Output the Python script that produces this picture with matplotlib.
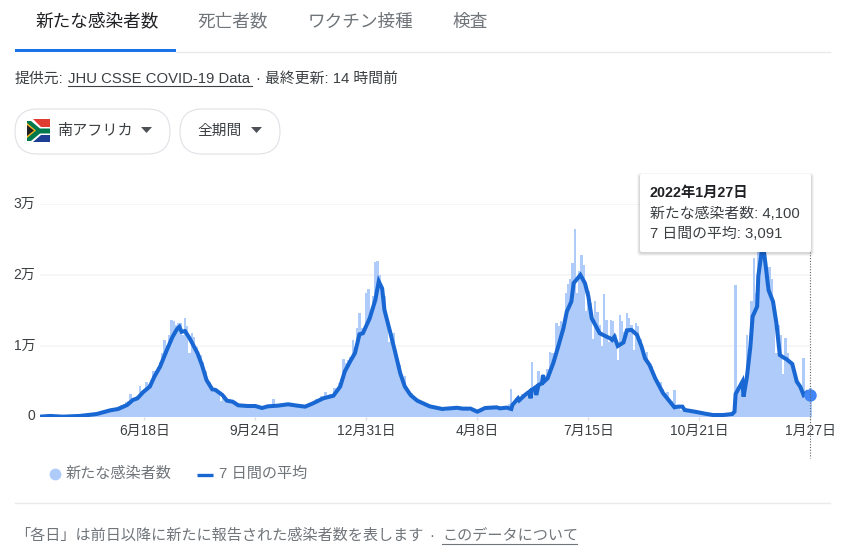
import numpy as np
import matplotlib
matplotlib.use("Agg")
import matplotlib.pyplot as plt
from matplotlib.patches import FancyBboxPatch, Polygon, Rectangle
from matplotlib.transforms import ScaledTranslation

FONT = ["Liberation Sans", "Noto Sans CJK JP"]
plt.rcParams["font.family"] = FONT

# 新たな感染者数 (read every 2 days)
daily_cases = [
    20, 60, 100, 150, 120, 100, 80, 60, 50, 40, 40, 50, 60, 70, 80, 100, 120, 150, 150, 170,
    200, 230, 260, 300, 350, 400, 500, 600, 800, 950, 1000, 1050, 1100, 1200, 1300, 1500, 1700, 1900, 2100, 2200,
    3200, 2700, 2700, 2900, 4300, 3600, 3800, 5000, 4600, 5200, 6500, 6500, 7000, 7800, 9000, 10800, 10200, 11500, 13700, 13500,
    13000, 13300, 13300, 11500, 13900, 12800, 9000, 11800, 11200, 9800, 8000, 8800, 7800, 6500, 4500, 5000, 4300, 3500, 3900, 3600,
    2300, 3000, 2700, 2000, 2300, 2400, 2200, 1900, 1500, 1600, 1700, 1400, 1800, 1700, 1500, 1500, 1600, 1400, 1200, 1400,
    1500, 1700, 1500, 2500, 1500, 1600, 1700, 1900, 1800, 2000, 1600, 1800, 1500, 1700, 1600, 1400, 1500, 1300, 1700, 2000,
    2100, 1900, 2500, 2400, 3000, 2800, 3500, 3100, 3300, 3000, 4100, 3600, 4800, 5300, 8200, 7600, 8000, 8500, 10900, 9800,
    12500, 14700, 12500, 12000, 17500, 18000, 15000, 17000, 21900, 22000, 20000, 18000, 17000, 14000, 10500, 12200, 11900, 9500, 8000, 7300,
    5500, 5800, 4200, 3000, 3400, 3000, 2600, 2400, 2000, 1800, 1700, 1500, 1400, 1600, 1200, 1300, 1100, 1000, 1200, 900,
    1100, 1300, 1000, 1200, 1400, 1000, 1300, 1100, 1000, 1200, 800, 1000, 700, 500, 700, 1100, 900, 1300, 1500, 1200,
    1400, 1300, 1300, 1300, 1300, 1500, 1600, 1800, 3900, 1800, 2700, 2900, 2800, 3300, 3200, 3600, 3800, 7700, 3800, 4400,
    6500, 5000, 6100, 5800, 6800, 9200, 9000, 9000, 13200, 12800, 13500, 12500, 17400, 18700, 19500, 21700, 26500, 17500, 20500, 22800,
    21400, 15000, 17800, 16000, 11000, 16300, 14800, 13000, 10000, 17300, 13700, 10500, 13700, 13500, 11500, 8000, 14400, 13500, 12000, 14700,
    14000, 13000, 9500, 13200, 12800, 11000, 9000, 8900, 9200, 7500, 7200, 6200, 5700, 5000, 5000, 3900, 3300, 3500, 2600, 2300,
    3800, 1500, 1300, 1000, 800, 900, 700, 600, 600, 700, 500, 600, 500, 400, 400, 300, 300, 300, 280, 250,
    250, 230, 220, 250, 300, 300, 450, 18600, 4000, 4500, 5000, 4500, 11500, 9000, 16300, 22400, 17500, 23500, 25000, 24000,
    23000, 18000, 21100, 19500, 16000, 9000, 13000, 11500, 6000, 11100, 9000, 8000, 7500, 6500, 5500, 4500, 4000, 8300, 3000, 3000, 4100,
]

# 7 日間の平均
avg_days = [
    0, 9, 20, 35, 50, 62, 69, 77, 82, 86, 91, 97, 101, 106, 112, 117, 121, 123, 125, 128,
    132, 139, 143, 147, 152, 155, 161, 165, 170, 175, 183, 190, 196, 201, 210, 219, 227, 234, 241, 250,
    259, 265, 269, 274, 278, 282, 285, 291, 296, 299, 302, 304, 309, 313, 318, 322, 327, 333, 344, 355,
    368, 373, 380, 386, 393, 403, 406, 412, 416, 417, 422, 423, 428, 432, 433, 434, 437, 438, 440, 443,
    444, 445, 448, 453, 457, 462, 465, 469, 471, 477, 481, 484, 487, 490, 494, 499, 503, 505, 507, 510,
    515, 518, 522, 527, 531, 534, 538, 543, 550, 556, 560, 563, 567, 569, 578, 587, 594, 603, 611, 613,
    614, 620, 621, 624, 627, 629, 633, 634, 637, 639, 641, 643, 647, 650, 653, 656, 659, 664, 668, 671,
    674, 677, 680,
]
avg_cases = [
    50, 150, 50, 150, 420, 940, 1130, 1700, 2400, 2630, 3500, 4300, 5700, 7100, 9450, 11300, 12400, 12700, 12000, 12100,
    11100, 9000, 7300, 5200, 3900, 3800, 3100, 2300, 2160, 1650, 1550, 1550, 1270, 1500, 1600, 1790, 1600, 1460, 1930, 2630,
    3000, 4300, 6400, 7900, 9000, 11650, 11800, 13900, 16500, 19100, 18100, 15100, 12000, 9450, 6150, 4300, 3100, 2300, 1500, 1130,
    1300, 1180, 1180, 750, 1270, 1360, 1220, 1320, 1130, 1700, 2630, 2350, 3100, 3570, 2630, 3800, 4140, 3100, 4500, 4750,
    5900, 5000, 5450, 7570, 9700, 12500, 14850, 16260, 18850, 20000, 18850, 17000, 13900, 13000, 11800, 11400, 11100, 10850, 11300, 10000,
    10500, 12200, 12270, 11560, 9900, 8270, 7330, 5450, 3340, 2160, 1360, 1460, 1460, 990, 750, 470, 280, 280, 420, 750,
    3240, 4980, 2870, 5690, 9900, 14150, 15560, 19800, 23300, 23300, 20700, 17900, 16260, 13200, 8740, 8400, 8130, 7470, 4980, 4280,
    3100, 3500, 3091,
]

tick_days = [92, 190, 288, 386, 484, 582, 680]
tick_labels = ["6月18日", "9月24日", "12月31日", "4月8日", "7月15日", "10月21日", "1月27日"]
y_ticks = [0, 10000, 20000, 30000]
y_labels = ["0", "1万", "2万", "3万"]
tabs = ["新たな感染者数", "死亡者数", "ワクチン接種", "検査"]

BAR = "#aecbfa"
LINE = "#1967d2"
GRAY = "#70757a"
DARK = "#3c4043"

W, H = 849, 554
fig = plt.figure(figsize=(W / 100, H / 100), dpi=100, facecolor="white")

# main chart, 0 is at y=417px and 3万 at y=204px
ax = fig.add_axes([40 / W, (H - 417) / H, 790 / W, 213 / H], zorder=1)
ax.set_xlim(0, 697.3)
ax.set_ylim(0, 30000)
ax.patch.set_visible(False)
for s in ax.spines.values():
    s.set_visible(False)
ax.hlines(y_ticks[1:], 0, 680, color="#f3f4f5", lw=1.1, zorder=1)
ax.hlines(0, 0, 680, color="#e8eaed", lw=1, zorder=1)
bar_days = np.arange(len(daily_cases)) * 2
ax.bar(bar_days, daily_cases, width=2.05, color=BAR, linewidth=0, zorder=2)
ax.plot(avg_days, avg_cases, color=LINE, lw=2.9, solid_joinstyle="miter", zorder=3)
ax.plot(avg_days[-1], avg_cases[-1], "o", ms=9, color="#4285f4", mew=0, zorder=4, clip_on=False)
ax.set_xticks(tick_days)
ax.set_xticklabels(tick_labels, fontsize=10, color=DARK)
ax.set_yticks(y_ticks)
ax.set_yticklabels(y_labels, fontsize=10, color=DARK)
ax.tick_params(axis="x", length=2, width=1, color="#dadce0", pad=3.3)
ax.tick_params(axis="y", length=0, pad=3.5)
# labels sit 2px above their grid line
for lab in ax.get_yticklabels():
    lab.set_transform(lab.get_transform() + ScaledTranslation(0, 0.02, fig.dpi_scale_trans))

# page parts around the chart, in pixel coordinates
ov = fig.add_axes([0, 0, 1, 1], zorder=2)
ov.set_xlim(0, W)
ov.set_ylim(H, 0)
ov.axis("off")


def txt(x, y, s, size=10.7, color=DARK, **kw):
    return ov.text(x, y + 1, s, fontsize=size, color=color, va="center", family=FONT, **kw)


def pill(x0, x1, y0, y1):
    r = (y1 - y0) / 2
    ov.add_patch(FancyBboxPatch((x0 + r, y0 + r), x1 - x0 - 2 * r, 0,
                                boxstyle="round,pad=%f,rounding_size=%f" % (r, r),
                                fc="white", ec="#dfe1e5", lw=0.8))


# tabs
tab_x = [35, 197, 308, 453]
tab_colors = ["#202124", GRAY, GRAY, GRAY]
for x, s, c in zip(tab_x, tabs, tab_colors):
    txt(x, 21, s, size=12.7, color=c)
ov.plot([176, 830], [51.5, 51.5], color="#e8eaed", lw=1)
ov.add_patch(Rectangle((15, 48.5), 161, 3, fc="#1a73e8", ec="none"))

# source line
txt(15, 78, "提供元:")
txt(68, 78, "JHU CSSE COVID-19 Data")
ov.plot([68, 252], [85.5, 85.5], color=DARK, lw=0.8)
txt(256, 78, "· 最終更新: 14 時間前")

# selectors
pill(15, 170, 109, 154)
pill(180, 280, 109, 154)
txt(57, 130, "南アフリカ", size=10.9)
txt(197, 130, "全期間", size=10.6)
for x in [141, 251]:
    ov.add_patch(Polygon([(x, 127), (x + 11, 127), (x + 5.5, 133)], fc="#4d5156", ec="none"))

# flag
ov.add_patch(Rectangle((27, 119), 23, 11.5, fc="#e03c31", ec="none"))
ov.add_patch(Rectangle((27, 130.5), 23, 11.5, fc="#1c3f94", ec="none"))
ov.add_patch(Polygon([(27, 119), (33, 119), (41, 127), (50, 127), (50, 135), (41, 135), (33, 142), (27, 142)],
                     fc="white", ec="none"))
ov.add_patch(Polygon([(27, 121), (31, 121), (40, 128.5), (50, 128.5), (50, 133.5), (40, 133.5), (31, 141), (27, 141)],
                     fc="#007a4d", ec="none"))
ov.add_patch(Polygon([(27, 123), (36, 130.5), (27, 138)], fc="#ffb81c", ec="none"))
ov.add_patch(Polygon([(27, 125), (34, 130.5), (27, 136)], fc="#202124", ec="none"))

# hover line and tooltip
ov.plot([810.5, 810.5], [252, 458], color="#5f6368", lw=0.8, ls=(0, (1, 1.5)))
for grow, alpha in [(3, 0.04), (2, 0.05), (1, 0.07)]:
    ov.add_patch(FancyBboxPatch((640 - grow, 175 - grow + 1), 171 + 2 * grow, 77 + 2 * grow,
                                boxstyle="round,pad=0,rounding_size=3", fc="black", ec="none", alpha=alpha))
ov.add_patch(FancyBboxPatch((640, 174), 171, 78, boxstyle="round,pad=0,rounding_size=2", fc="white", ec="none"))
txt(650, 192, "2022年1月27日", size=10.3, color="#202124", weight="bold")
txt(650, 213, "新たな感染者数: 4,100", size=10.7)
txt(650, 233, "7 日間の平均: 3,091", size=10.7)

# legend
ov.plot([55], [473.5], "o", ms=8.5, color=BAR, mew=0)
txt(66, 473, "新たな感染者数", size=10.9, color=GRAY)
ov.plot([197, 213], [474.5, 474.5], color=LINE, lw=2.4, solid_capstyle="butt")
txt(219, 473, "7 日間の平均", size=10.9, color=GRAY)

# footer
ov.plot([15, 830], [502.5, 502.5], color="#e8eaed", lw=1)
txt(15, 535, "「各日」は前日以降に新たに報告された感染者数を表します", size=10.9, color=GRAY)
txt(429, 535, "·", size=10.9, color=GRAY)
txt(442, 535, "このデータについて", size=10.9, color=GRAY)
ov.plot([442, 577], [543.5, 543.5], color=GRAY, lw=0.8)

fig.savefig("out.png", dpi=100)
